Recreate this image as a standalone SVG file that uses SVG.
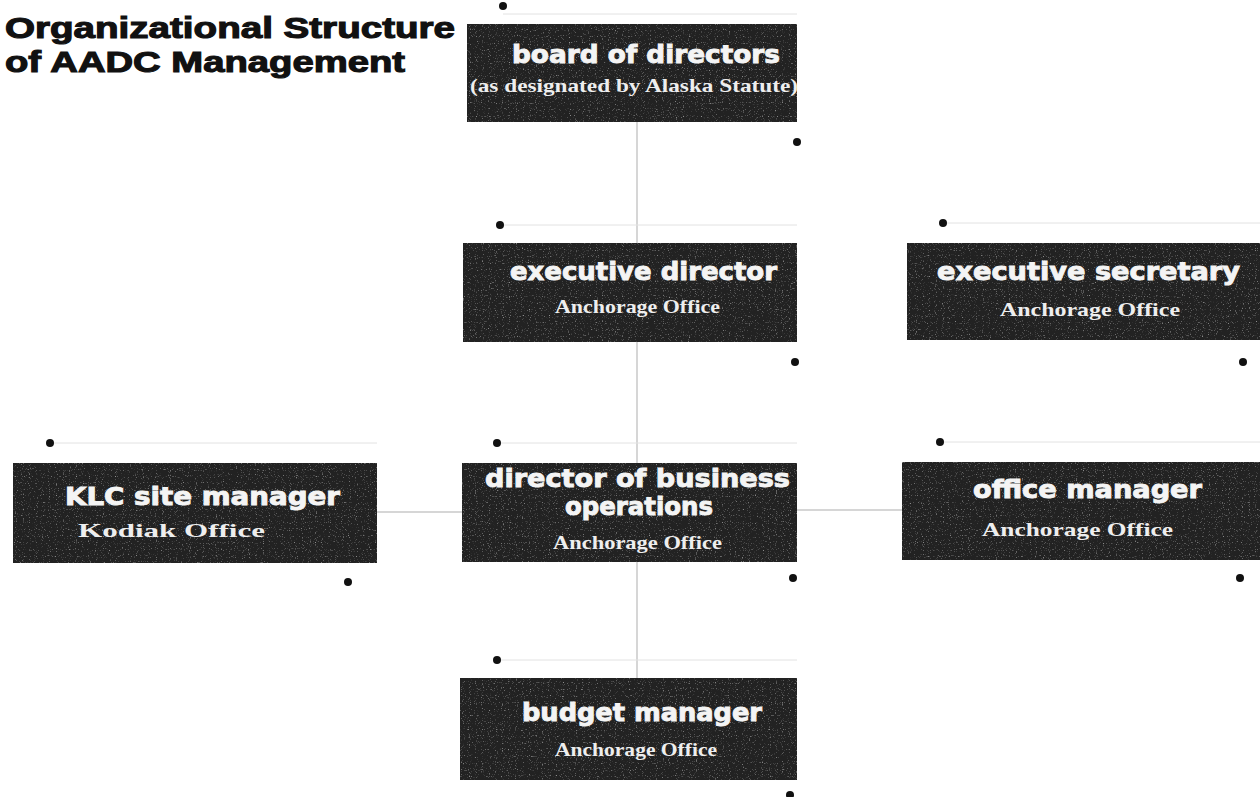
<svg xmlns="http://www.w3.org/2000/svg" width="1260" height="797" viewBox="0 0 1260 797">
<defs>
<style>
.title{font-family:"Liberation Sans",Arial,sans-serif;font-weight:bold;font-size:29px;fill:#111;stroke:#111;stroke-width:1.1px}
.box{fill:#222222}
.noise{opacity:0.6}
.h{font-family:"DejaVu Sans","Liberation Sans",sans-serif;font-weight:bold;font-size:24px;fill:#f4f4f4;stroke:#f4f4f4;stroke-width:0.9px}
.s{font-family:"Liberation Serif","Times New Roman",serif;font-weight:bold;font-size:19px;fill:#eeeeee}
.dot{fill:#111}
.conn{stroke:#c8c8c8;stroke-width:1.5;fill:none}
.rule{stroke:#e2e2e2;stroke-width:1;fill:none}
</style>
<filter id="speck" x="0" y="0" width="1" height="1">
<feTurbulence type="fractalNoise" baseFrequency="0.85" numOctaves="1" seed="3" result="n"/>
<feColorMatrix in="n" type="matrix" values="0 0 0 0 0.7  0 0 0 0 0.7  0 0 0 0 0.7  0 0 0 4.5 -2.7"/>
</filter>
</defs>
<rect width="1260" height="797" fill="#ffffff"/>
<g id="title">
<text class="title" x="5" y="38" textLength="450" lengthAdjust="spacingAndGlyphs">Organizational Structure</text>
<text class="title" x="5" y="72" textLength="400" lengthAdjust="spacingAndGlyphs">of AADC Management</text>
</g>
<g id="connectors">
<line class="conn" x1="637" y1="122" x2="637" y2="243"/>
<line class="conn" x1="637" y1="342" x2="637" y2="463"/>
<line class="conn" x1="637" y1="562" x2="637" y2="678"/>
<line class="conn" x1="377" y1="512" x2="462" y2="512"/>
<line class="conn" x1="797" y1="510" x2="902" y2="510"/>
</g>
<g id="board">
<line class="rule" x1="503" y1="14" x2="797" y2="14"/>
<rect class="box" x="467" y="24" width="330" height="98"/>
<rect x="467" y="24" width="330" height="98" filter="url(#speck)" class="noise"/>
<text class="h" x="512" y="63" textLength="268" lengthAdjust="spacingAndGlyphs">board of directors</text>
<text class="s" x="470" y="92" textLength="328" lengthAdjust="spacingAndGlyphs">(as designated by Alaska Statute)</text>
<circle class="dot" cx="503" cy="6" r="4"/>
<circle class="dot" cx="797" cy="142" r="4"/>
</g>
<g id="exec-director">
<line class="rule" x1="500" y1="225" x2="797" y2="225"/>
<rect class="box" x="463" y="243" width="334" height="99"/>
<rect x="463" y="243" width="334" height="99" filter="url(#speck)" class="noise"/>
<text class="h" x="510" y="280" textLength="267" lengthAdjust="spacingAndGlyphs">executive director</text>
<text class="s" x="555" y="313" textLength="165" lengthAdjust="spacingAndGlyphs">Anchorage Office</text>
<circle class="dot" cx="500" cy="225" r="4"/>
<circle class="dot" cx="795" cy="362" r="4"/>
</g>
<g id="exec-secretary">
<line class="rule" x1="943" y1="223" x2="1260" y2="223"/>
<rect class="box" x="907" y="243" width="353" height="97"/>
<rect x="907" y="243" width="353" height="97" filter="url(#speck)" class="noise"/>
<text class="h" x="937" y="280" textLength="303" lengthAdjust="spacingAndGlyphs">executive secretary</text>
<text class="s" x="1000" y="316" textLength="180" lengthAdjust="spacingAndGlyphs">Anchorage Office</text>
<circle class="dot" cx="943" cy="223" r="4"/>
<circle class="dot" cx="1243" cy="362" r="4"/>
</g>
<g id="klc-site-manager">
<line class="rule" x1="50" y1="443" x2="377" y2="443"/>
<rect class="box" x="13" y="463" width="364" height="100"/>
<rect x="13" y="463" width="364" height="100" filter="url(#speck)" class="noise"/>
<text class="h" x="65" y="505" textLength="275" lengthAdjust="spacingAndGlyphs">KLC site manager</text>
<text class="s" x="78" y="537" textLength="187" lengthAdjust="spacingAndGlyphs">Kodiak Office</text>
<circle class="dot" cx="50" cy="443" r="4"/>
<circle class="dot" cx="348" cy="582" r="4"/>
</g>
<g id="director-business-operations">
<line class="rule" x1="497" y1="443" x2="797" y2="443"/>
<rect class="box" x="462" y="463" width="335" height="99"/>
<rect x="462" y="463" width="335" height="99" filter="url(#speck)" class="noise"/>
<text class="h" x="485" y="487" textLength="305" lengthAdjust="spacingAndGlyphs">director of business</text>
<text class="h" x="565" y="515" textLength="148" lengthAdjust="spacingAndGlyphs">operations</text>
<text class="s" x="553" y="549" textLength="169" lengthAdjust="spacingAndGlyphs">Anchorage Office</text>
<circle class="dot" cx="497" cy="443" r="4"/>
<circle class="dot" cx="793" cy="578" r="4"/>
</g>
<g id="office-manager">
<line class="rule" x1="940" y1="442" x2="1260" y2="442"/>
<rect class="box" x="902" y="462" width="358" height="98"/>
<rect x="902" y="462" width="358" height="98" filter="url(#speck)" class="noise"/>
<text class="h" x="973" y="498" textLength="229" lengthAdjust="spacingAndGlyphs">office manager</text>
<text class="s" x="982" y="536" textLength="191" lengthAdjust="spacingAndGlyphs">Anchorage Office</text>
<circle class="dot" cx="940" cy="442" r="4"/>
<circle class="dot" cx="1240" cy="578" r="4"/>
</g>
<g id="budget-manager">
<line class="rule" x1="497" y1="660" x2="797" y2="660"/>
<rect class="box" x="460" y="678" width="337" height="102"/>
<rect x="460" y="678" width="337" height="102" filter="url(#speck)" class="noise"/>
<text class="h" x="522" y="721" textLength="240" lengthAdjust="spacingAndGlyphs">budget manager</text>
<text class="s" x="555" y="756" textLength="162" lengthAdjust="spacingAndGlyphs">Anchorage Office</text>
<circle class="dot" cx="497" cy="660" r="4"/>
<circle class="dot" cx="790" cy="795" r="4"/>
</g>
</svg>
